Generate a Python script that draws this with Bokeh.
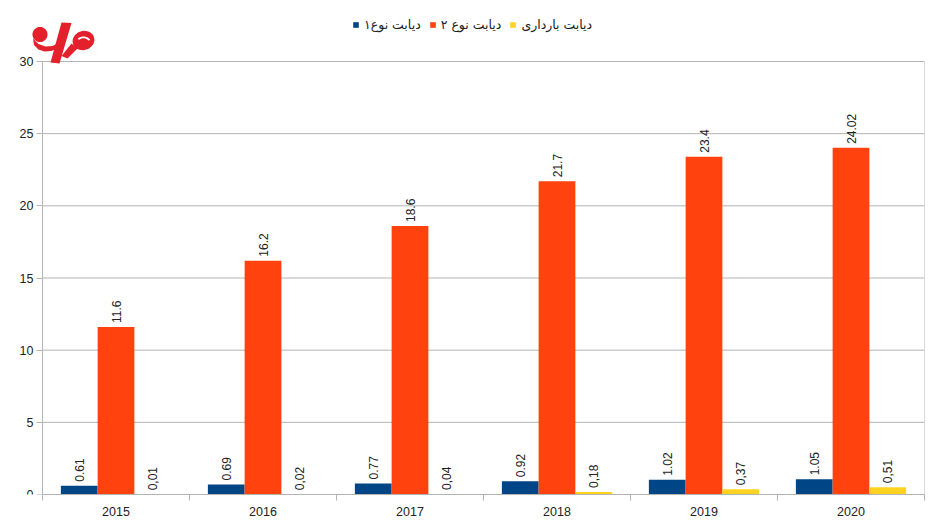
import numpy as np
from bokeh.plotting import figure
from bokeh.models import (Range1d, FixedTicker, Legend, LegendItem, ColumnDataSource)
from bokeh.embed import file_html
from bokeh.resources import INLINE
from bokeh.core.properties import value

# ---- data ----
years = ["2015", "2016", "2017", "2018", "2019", "2020"]
type1 = [0.61, 0.69, 0.77, 0.92, 1.02, 1.05]
type2 = [11.6, 16.2, 18.6, 21.7, 23.4, 24.02]
gestational = [0.01, 0.02, 0.04, 0.18, 0.37, 0.51]
series_names = ["دیابت نوع۱", "دیابت نوع ۲", "دیابت بارداری"]
y_ticks = [0, 5, 10, 15, 20, 25, 30]

colors = ["#004586", "#ff420e", "#ffd320"]
decimal_sep = [".", ".", ","]
grey = "#b3b3b3"
text_col = "#222222"

# ---- layout (page pixels) ----
W, H = 943, 530
FL, FR, FT, FB = 14, 924, 8, 494      # drawing frame
AX_X, AX_TOP = 42, 61                 # where the value axis starts / where the top tick sits
n = len(years)
ymax = max(y_ticks)
px_cat = (FR - AX_X) / n
px_unit = (FB - AX_TOP) / ymax

p = figure(width=W, height=H,
           x_range=Range1d(-(AX_X - FL) / px_cat, n),
           y_range=Range1d(0, ymax + (AX_TOP - FT) / px_unit),
           output_backend="svg", toolbar_location=None,
           min_border_left=FL, min_border_right=W - FR,
           min_border_top=FT, min_border_bottom=H - FB)
p.background_fill_color = "white"
p.border_fill_color = "white"
p.outline_line_color = None
p.extra_x_ranges = {"px": Range1d(FL, FR)}
p.extra_y_ranges = {"px": Range1d(FB, FT)}

# grid lines and right border
p.xgrid.visible = False
p.ygrid.visible = False
p.segment(x0=[0] * len(y_ticks), x1=[n] * len(y_ticks), y0=y_ticks, y1=y_ticks,
          line_color=grey, line_width=1)
p.segment(x0=[n], x1=[n], y0=[0], y1=[ymax], line_color=grey, line_width=1)

# y axis
p.yaxis.fixed_location = 0
p.yaxis.bounds = (0, ymax)
p.yaxis.ticker = FixedTicker(ticks=y_ticks)
p.yaxis.axis_line_color = grey
p.yaxis.major_tick_line_color = grey
p.yaxis.major_tick_out = 6
p.yaxis.major_tick_in = 0
p.yaxis.minor_tick_line_color = None
p.yaxis.major_label_standoff = 3
p.yaxis.major_label_text_font = "Liberation Sans"
p.yaxis.major_label_text_font_size = "12.5px"
p.yaxis.major_label_text_color = text_col

# x axis
centers = [i + 0.5 for i in range(n)]
p.xaxis.bounds = (0, n)
p.xaxis.ticker = FixedTicker(ticks=centers, minor_ticks=list(range(n + 1)))
p.xaxis.major_label_overrides = {c: y for c, y in zip(centers, years)}
p.xaxis.axis_line_color = grey
p.xaxis.major_tick_line_color = None
p.xaxis.major_tick_out = 0
p.xaxis.major_tick_in = 0
p.xaxis.minor_tick_line_color = grey
p.xaxis.minor_tick_out = 6
p.xaxis.minor_tick_in = 0
p.xaxis.major_label_standoff = 6
p.xaxis.major_label_text_font = "Liberation Sans"
p.xaxis.major_label_text_font_size = "12.5px"
p.xaxis.major_label_text_color = text_col

# bars + value labels
offsets = [-0.25, 0.0, 0.25]
items = []
for vals, name, col, off, sep in zip([type1, type2, gestational], series_names, colors, offsets, decimal_sep):
    src = ColumnDataSource(dict(
        x=[c + off for c in centers],
        top=vals,
        label=[str(v).replace(".", sep) for v in vals],
    ))
    r = p.vbar(x="x", top="top", width=0.25, fill_color=col, line_color=None, source=src)
    p.text(x="x", y="top", text="label", angle=np.pi / 2, text_align="left",
           text_baseline="middle", y_offset=-4, text_font=value("Liberation Sans"),
           text_font_size="12px", text_color=text_col, source=src)
    items.append(LegendItem(label=name, renderers=[r]))

LEG_X, LEG_TOP, LEG_H = 352, 16, 16
legend = Legend(items=items, orientation="horizontal",
                location=(LEG_X - FL, FB - (LEG_TOP + LEG_H)),
                label_text_font="DejaVu Sans", label_text_font_size="12.5px",
                label_text_color=text_col, glyph_width=7, glyph_height=7,
                label_standoff=5, spacing=8, padding=0, margin=0,
                label_height=LEG_H, border_line_color=None, background_fill_alpha=0)
p.add_layout(legend, "center")

# ---- logo (decoration, page pixel coords) ----
logo_red = "#e3202b"
def ellipse(cx, cy, rx, ry, rot=0.0, k=40):
    t = np.linspace(0, 2 * np.pi, k, endpoint=False)
    x = rx * np.cos(t)
    y = ry * np.sin(t)
    c, s = np.cos(rot), np.sin(rot)
    return list(cx + x * c - y * s), list(cy + x * s + y * c)

shapes = [
    ellipse(39.5, 34, 7.5, 7.5),
    ([32.5, 38, 45, 52, 59, 58, 51, 44, 38, 33.5], [38, 43.5, 46, 45.5, 42, 47, 50.5, 51, 49, 44.5]),
    ([61, 71, 59, 50], [22, 22.5, 63, 62]),
    ellipse(83, 40, 11, 9.5, rot=-0.3),
    ([71, 77, 67, 61], [43, 48, 58, 55.5]),
]
p.patches(xs=[s[0] for s in shapes], ys=[s[1] for s in shapes],
          x_range_name="px", y_range_name="px", fill_color=logo_red, line_color=None)
t = np.linspace(0.3, 2.6, 20)
ax = list(83 + 7 * np.cos(t)) + list((83 + 4.8 * np.cos(t))[::-1])
ay = list(41 - 5 * np.sin(t)) + list((41 - 3.2 * np.sin(t))[::-1])
p.patch(x=ax, y=ay, x_range_name="px", y_range_name="px", fill_color="white", line_color=None)

open("out.html", "w").write(file_html(p, INLINE))
